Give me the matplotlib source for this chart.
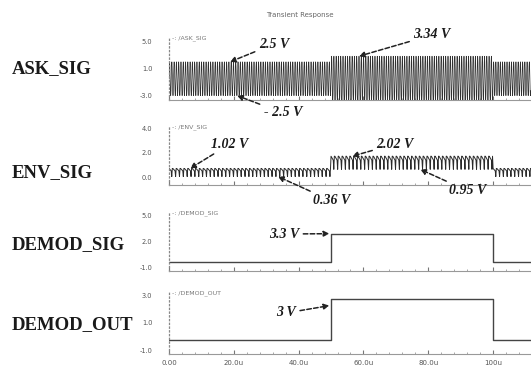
import matplotlib
matplotlib.use('Agg')
import matplotlib.pyplot as plt
import numpy as np

# segments of the bit pattern (time in us)
seg_start_us = [0.0, 50.0, 100.0]
seg_end_us = [50.0, 100.0, 111.7]
ask_amp_v = [2.5, 3.34, 2.5]
env_low_v = [0.36, 0.95, 0.36]
env_high_v = [1.02, 2.02, 1.02]
demod_sig_v = [0.0, 3.3, 0.0]
demod_out_v = [0.0, 3.0, 0.0]

carrier_period_us = 0.7
ripple_period_us = 1.2
# one carrier cycle, normalised
carrier_cycle = [0.0, 0.71, 1.0, 0.71, 0.0, -0.71, -1.0, -0.71]
# one ripple cycle of the envelope output, 0 = low, 1 = high
ripple_cycle = [1.0, 0.92, 0.85, 0.78, 0.7, 0.0, 1.0]

xticks_us = [0, 20, 40, 60, 80, 100]
xtick_labels = ['0.00', '20.0u', '40.0u', '60.0u', '80.0u', '100u']

W, H = 531, 370
fig = plt.figure(figsize=(W / 100, H / 100), dpi=100)
fig.patch.set_facecolor('white')


def box(x0, ytop, x1, ybot):
    return [x0 / W, 1 - ybot / H, (x1 - x0) / W, (ybot - ytop) / H]


def fy(y):
    return 1 - y / H


def segment_wave(cycle, period):
    # repeat one cycle over every segment
    n = len(cycle)
    t_all, v_all, seg_all = [], [], []
    for i, (a, b) in enumerate(zip(seg_start_us, seg_end_us)):
        ncyc = int(round((b - a) / period))
        t = a + np.arange(ncyc * n) * (b - a) / (ncyc * n)
        t_all.append(t)
        v_all.append(np.tile(cycle, ncyc))
        seg_all.append(np.full(len(t), i))
    return np.concatenate(t_all), np.concatenate(v_all), np.concatenate(seg_all)


def step_wave(levels):
    t, v = [], []
    for a, b, lv in zip(seg_start_us, seg_end_us, levels):
        t += [a, b]
        v += [lv, lv]
    return t, v


axes_px = [(37, 100), (126, 185), (212, 271), (292, 354)]
ylims = [(-3.15, 6.19), (-0.33, 4.49), (-1.0, 5.8), (-1.02, 3.49)]
yticks = [[5.0, 1.0, -3.0], [4.0, 2.0, 0.0], [5.0, 2.0, -1.0], [3.0, 1.0, -1.0]]
names = ['/ASK_SIG', '/ENV_SIG', '/DEMOD_SIG', '/DEMOD_OUT']
side_labels = ['ASK_SIG', 'ENV_SIG', 'DEMOD_SIG', 'DEMOD_OUT']
side_y = [69, 173, 245, 325]

axs = []
for i, (yt, yb) in enumerate(axes_px):
    ax = fig.add_axes(box(169, yt, 531, yb))
    ax.set_xlim(0, 111.7)
    ax.set_ylim(*ylims[i])
    for s in ['top', 'right']:
        ax.spines[s].set_visible(False)
    ax.spines['left'].set_linestyle((0, (1, 2)))
    ax.spines['left'].set_color('#888888')
    ax.spines['left'].set_linewidth(0.9)
    ax.spines['bottom'].set_color('#999999')
    ax.spines['bottom'].set_linewidth(0.8)
    ax.set_yticks(yticks[i])
    ax.set_yticklabels(['%.1f' % v for v in yticks[i]])
    for lab in ax.get_yticklabels():
        lab.set_verticalalignment('bottom')
    ax.tick_params(axis='y', length=0, pad=12, labelsize=4.8, labelcolor='#555555')
    ax.set_xticks(xticks_us)
    ax.set_xticks(np.arange(0, 112, 4), minor=True)
    ax.tick_params(axis='x', which='major', direction='in', length=3, color='#777777',
                   labelsize=5, labelcolor='#555555', pad=4)
    ax.tick_params(axis='x', which='minor', direction='in', length=1.5, color='#999999')
    if i < 3:
        ax.set_xticklabels([])
    else:
        ax.set_xticklabels(xtick_labels)
    ax.patch.set_alpha(0)
    axs.append(ax)
    fig.text(172 / W, fy(yt + 1), '-: ' + names[i], fontsize=4.5, color='#777777', va='center')
    fig.text(12 / W, fy(side_y[i]), side_labels[i], family='Liberation Serif',
             fontweight='bold', fontsize=13.5, color='#1a1a1a', va='center')

fig.text(300 / W, fy(15), 'Transient Response', fontsize=5, color='#666666', ha='center', va='center')

# ASK signal
t, c, seg = segment_wave(carrier_cycle, carrier_period_us)
axs[0].plot(t, c * np.array(ask_amp_v)[seg], color='#303030', lw=0.5)

# envelope detector output
t, r, seg = segment_wave(ripple_cycle, ripple_period_us)
lo = np.array(env_low_v)[seg]
hi = np.array(env_high_v)[seg]
axs[1].plot(t, lo + r * (hi - lo), color='#2a2a2a', lw=0.7)

# demodulated signals
t, v = step_wave(demod_sig_v)
axs[2].plot(t, v, color='#444444', lw=1.0)
t, v = step_wave(demod_out_v)
axs[3].plot(t, v, color='#444444', lw=1.0)

arrow = dict(arrowstyle='-|>', linestyle=(0, (3, 1.5)), color='#222222', lw=1.1,
             mutation_scale=8, shrinkA=1, shrinkB=0)
font = dict(family='Liberation Serif', fontweight='bold', fontstyle='italic',
            fontsize=10, color='#1a1a1a', ha='center', va='center')


def note(ax, text, tip, txt_px):
    ax.annotate(text, xy=tip, xycoords='data', xytext=(txt_px[0], H - txt_px[1]),
                textcoords='figure pixels', arrowprops=arrow, **font)


note(axs[0], '2.5 V', (18.8, ask_amp_v[0]), (274, 44))
note(axs[0], '3.34 V', (58.6, ask_amp_v[1]), (432, 35))
note(axs[0], '- 2.5 V', (21.0, -ask_amp_v[0]), (283, 113))
note(axs[0], '- 3.34 V', (76.5, -ask_amp_v[1]), (495, 113))
note(axs[1], '1.02 V', (6.5, env_high_v[0]), (230, 144))
note(axs[1], '2.02 V', (56.5, env_high_v[1]), (395, 144))
note(axs[1], '0.36 V', (33.6, env_low_v[0]), (332, 201))
note(axs[1], '0.95 V', (77.5, env_low_v[1]), (468, 191))
note(axs[2], '3.3 V', (49.5, demod_sig_v[1]), (284, 234))
note(axs[3], '3 V', (49.5, demod_out_v[1] - 0.5), (286, 313))

fig.savefig('out.png', dpi=100, facecolor='white')
